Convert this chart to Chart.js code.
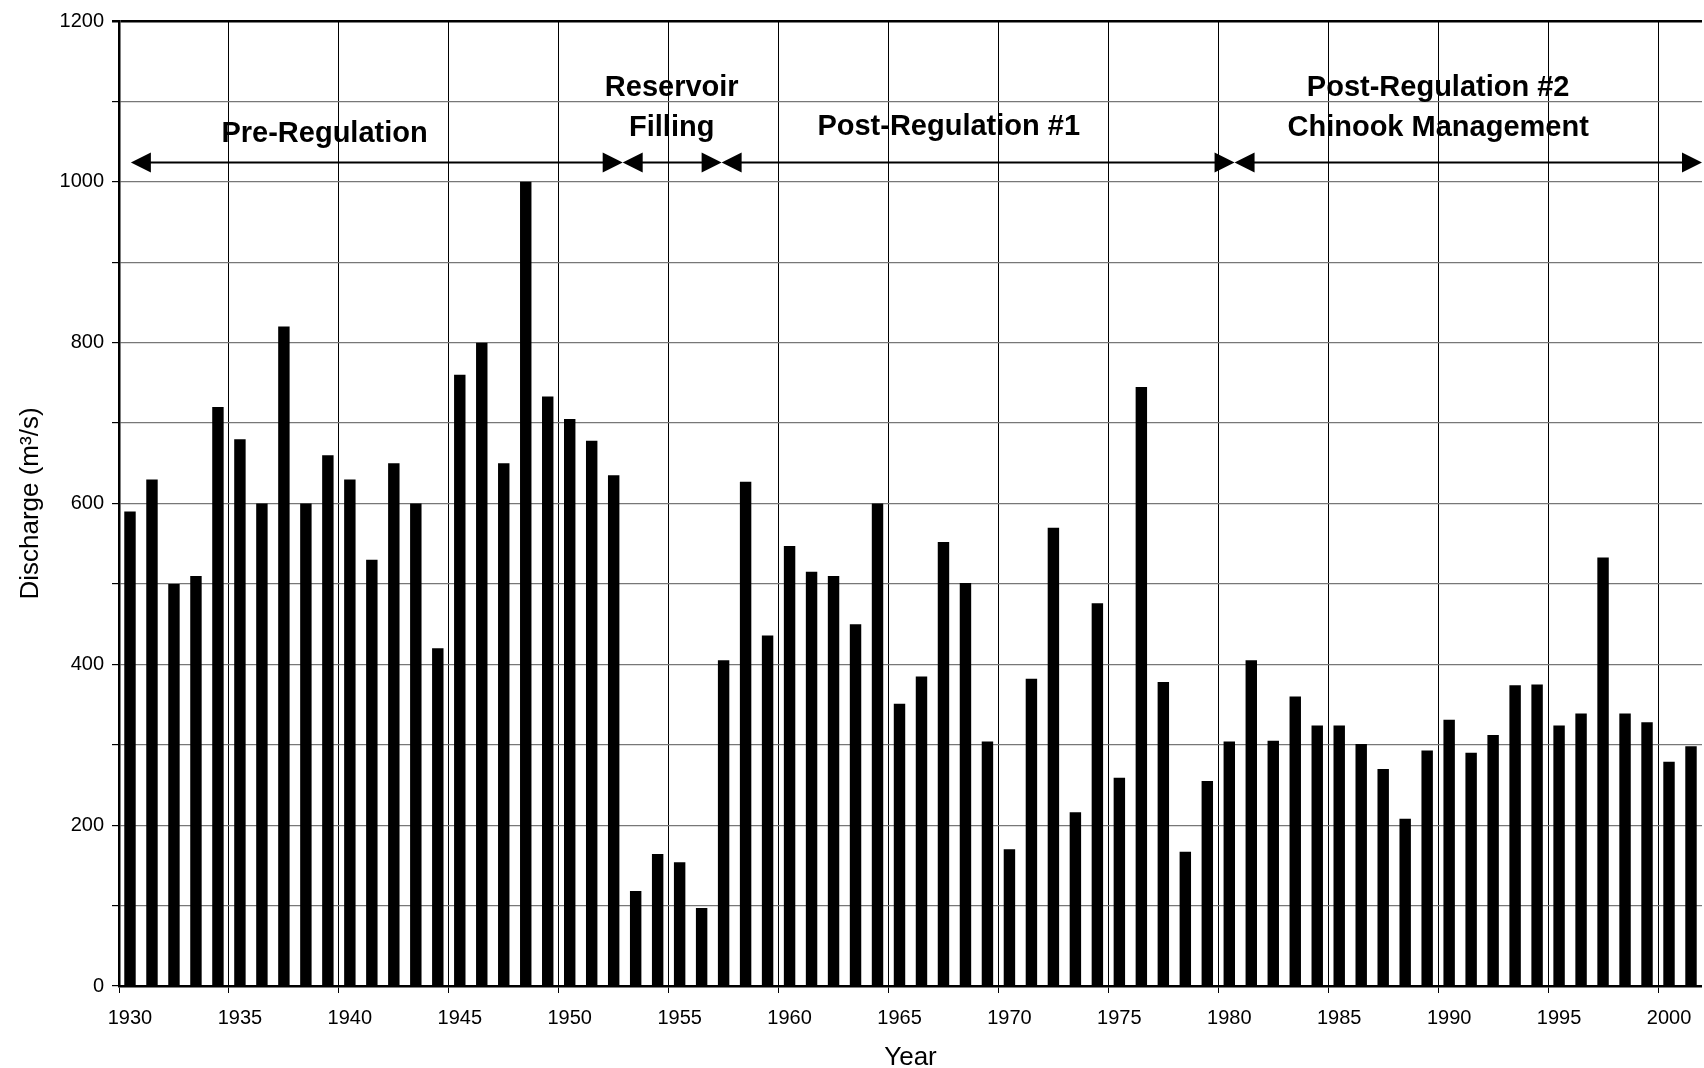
<!DOCTYPE html>
<html>
<head>
<meta charset="utf-8">
<script src="https://cdn.jsdelivr.net/npm/chart.js@4/dist/chart.umd.min.js"></script>
<style>
html, body { margin: 0; padding: 0; background: #fff; overflow: hidden; }
</style>
</head>
<body>
<canvas id="mychart" width="1704" height="1068"></canvas>
<script>
const firstYear = 1930;
const lastYear = 2001;

const years = [];
for (let yr = firstYear; yr <= lastYear; yr++) {
  years.push(String(yr));
}

// annual discharge, m3/s
const discharge = [
  590, 630, 500, 510, 720, 680, 600, 820, 600, 660,
  630, 530, 650, 600, 420, 760, 800, 650, 1000, 733,
  705, 678, 635, 118, 164, 154, 97, 405, 627, 436,
  547, 515, 510, 450, 600, 351, 385, 552, 501, 304,
  170, 382, 570, 216, 476, 259, 745, 378, 167, 255,
  304, 405, 305, 360, 324, 324, 301, 270, 208, 293,
  331, 290, 312, 374, 375, 324, 339, 533, 339, 328,
  279, 298
];

// regulation periods (in years along the axis) for the double arrows
const periodStart = [1930.54, 1952.91, 1957.41, 1980.74];
const periodEnd = [1952.91, 1957.41, 1980.74, 2002.0];
const arrowValue = 1024;

const noteText = ['Pre-Regulation', 'Reservoir', 'Filling', 'Post-Regulation #1', 'Post-Regulation #2', 'Chinook Management'];
const noteYear = [1939.35, 1955.14, 1955.14, 1967.74, 1990.0, 1990.0];
const noteValue = [1059, 1117, 1067, 1068, 1117, 1067];

const fontFamily = '"Liberation Sans", Arial, Helvetica, sans-serif';

const periodNotes = {
  id: 'periodNotes',
  afterDatasetsDraw(chart) {
    let ctx = chart.ctx;
    let xs = chart.scales.x;
    let ys = chart.scales.y;
    let px = function (yr) { return xs.getPixelForValue(yr - firstYear - 0.5); };
    let ay = ys.getPixelForValue(arrowValue);
    let head = 20, half = 10;

    ctx.save();
    ctx.fillStyle = '#000';
    ctx.strokeStyle = '#000';
    ctx.lineWidth = 2;
    for (let i = 0; i < periodStart.length; i++) {
      let x0 = px(periodStart[i]);
      let x1 = px(periodEnd[i]);
      ctx.beginPath();
      ctx.moveTo(x0 + head - 2, ay);
      ctx.lineTo(x1 - head + 2, ay);
      ctx.stroke();

      ctx.beginPath();
      ctx.moveTo(x0, ay);
      ctx.lineTo(x0 + head, ay - half);
      ctx.lineTo(x0 + head, ay + half);
      ctx.closePath();
      ctx.fill();

      ctx.beginPath();
      ctx.moveTo(x1, ay);
      ctx.lineTo(x1 - head, ay - half);
      ctx.lineTo(x1 - head, ay + half);
      ctx.closePath();
      ctx.fill();
    }

    ctx.font = 'bold 29px ' + fontFamily;
    ctx.textAlign = 'center';
    ctx.textBaseline = 'middle';
    for (let i = 0; i < noteText.length; i++) {
      ctx.fillText(noteText[i], px(noteYear[i]), ys.getPixelForValue(noteValue[i]));
    }
    ctx.restore();
  }
};

const data = {
  labels: years,
  datasets: [{
    label: 'Discharge',
    data: discharge,
    backgroundColor: '#000',
    borderWidth: 0,
    categoryPercentage: 1.0,
    barPercentage: 0.52,
  }],
};

const config = {
  type: 'bar',
  data: data,
  plugins: [periodNotes],
  options: {
    responsive: false,
    animation: false,
    devicePixelRatio: 1,
    layout: { padding: { top: 21, left: 0, right: 0, bottom: 0 } },
    plugins: {
      legend: { display: false },
      tooltip: { enabled: false },
    },
    scales: {
      x: {
        offset: true,
        afterFit: function (scale) { scale.height = 82; },
        border: { display: true, color: '#000', width: 2.5 },
        grid: {
          offset: true,
          drawTicks: true,
          tickLength: 7,
          lineWidth: 1,
          color: function (c) { return c.index % 5 === 0 ? '#000' : 'rgba(0,0,0,0)'; },
          tickColor: function (c) { return c.index % 5 === 0 ? '#000' : 'rgba(0,0,0,0)'; },
        },
        ticks: {
          autoSkip: false,
          maxRotation: 0,
          minRotation: 0,
          padding: 13,
          color: '#000',
          font: { family: fontFamily, size: 20 },
          callback: function (val, idx) { return idx % 5 === 0 ? years[idx] : ''; },
        },
        title: {
          display: true,
          text: 'Year',
          color: '#000',
          font: { family: fontFamily, size: 26, lineHeight: 1 },
          padding: { top: 0, bottom: -3 },
        },
      },
      y: {
        min: 0,
        max: 1200,
        afterFit: function (scale) { scale.width = 119; },
        border: { display: true, color: '#000', width: 2.5 },
        grid: {
          drawTicks: true,
          tickLength: 7,
          tickColor: '#000',
          color: function (c) {
            if (c.tick.value === 1200) return '#000';
            if (c.tick.value === 0) return 'rgba(0,0,0,0)';
            return '#777';
          },
          lineWidth: function (c) { return c.tick.value === 1200 ? 2.5 : 1.2; },
        },
        ticks: {
          stepSize: 100,
          padding: 8,
          color: '#000',
          font: { family: fontFamily, size: 20 },
          callback: function (val) { return val % 200 === 0 ? val : ''; },
        },
        title: {
          display: true,
          text: 'Discharge (m³/s)',
          color: '#000',
          font: { family: fontFamily, size: 26, lineHeight: 1 },
          padding: { top: 18, bottom: 0 },
        },
      },
    },
  },
};

var myChart = new Chart(document.getElementById('mychart'), config);
</script>
</body>
</html>
